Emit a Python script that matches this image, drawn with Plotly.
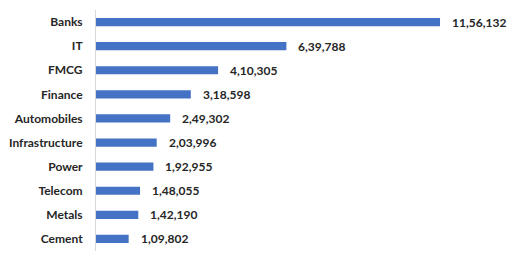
import plotly.graph_objects as go

categories = ["Banks", "IT", "FMCG", "Finance", "Automobiles", "Infrastructure",
              "Power", "Telecom", "Metals", "Cement"]
values = [1156132, 639788, 410305, 318598, 249302, 203996, 192955, 148055, 142190, 109802]
value_labels = ["11,56,132", "6,39,788", "4,10,305", "3,18,598", "2,49,302", "2,03,996",
                "1,92,955", "1,48,055", "1,42,190", "1,09,802"]

BAR = "#4472C4"
TXT = "#262626"
FONT = "Lato"

fig = go.Figure(go.Bar(
    x=values, y=categories, orientation="h",
    marker=dict(color=BAR, line=dict(width=0)),
    width=0.34,
    hoverinfo="skip",
))

for c, v, t in zip(categories, values, value_labels):
    fig.add_annotation(x=v, y=c, text=t, showarrow=False, xanchor="left",
                       xshift=10, font=dict(family=FONT, size=12, color=TXT, weight="bold"))

fig.update_layout(
    width=512, height=257,
    margin=dict(l=96, r=0, t=10, b=6),
    paper_bgcolor="white", plot_bgcolor="white",
    showlegend=False,
    xaxis=dict(range=[0, 1398000], visible=False, fixedrange=True),
    yaxis=dict(categoryorder="array", categoryarray=categories, autorange="reversed",
               showline=True, linecolor="#d9d9d9", linewidth=1, showgrid=False,
               ticks="", ticklabelstandoff=10,
               tickfont=dict(family=FONT, size=12, color=TXT, weight="bold")),
)

fig.write_html("out.html")
